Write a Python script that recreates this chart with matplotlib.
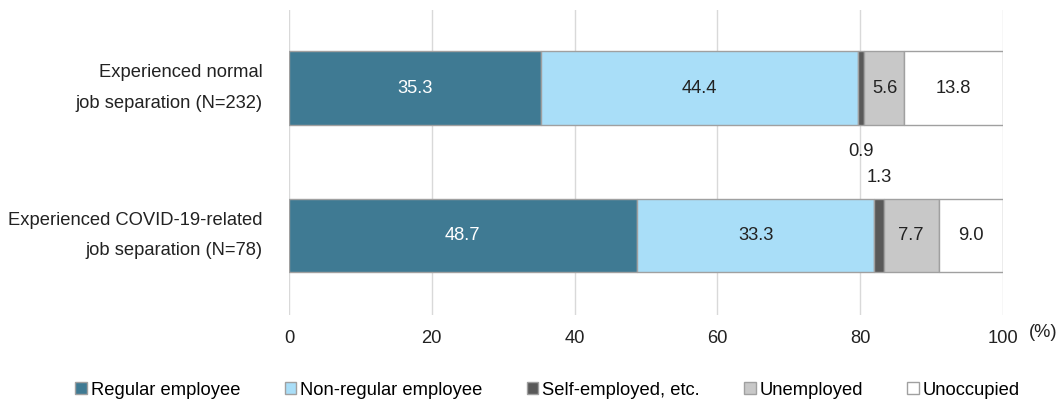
import matplotlib.pyplot as plt
import numpy as np

plt.rcParams['font.family'] = ['Liberation Sans', 'DejaVu Sans']

groups = ['Experienced normal\njob separation (N=232)',
          'Experienced COVID-19-related\njob separation (N=78)']
series = ['Regular employee', 'Non-regular employee', 'Self-employed, etc.',
          'Unemployed', 'Unoccupied']
regular = [35.3, 48.7]
nonregular = [44.4, 33.3]
selfemp = [0.9, 1.3]
unemployed = [5.6, 7.7]
unoccupied = [13.8, 9.0]

colors = ['#3F7A93', '#A9DEF8', '#595959', '#C8C8C8', '#FFFFFF']
text_colors = ['white', '#222222', None, '#222222', '#222222']
fs = 13.2

fig = plt.figure(figsize=(10.59, 4.01), dpi=100)
ax = fig.add_axes([0.2729, 0.2145, 0.6742, 0.7605])

ypos = [1, 0]
data = [regular, nonregular, selfemp, unemployed, unoccupied]
left = np.zeros(2)
for i, vals in enumerate(data):
    ax.barh(ypos, vals, left=left, height=0.5, color=colors[i],
            edgecolor='#A0A0A0', linewidth=1, label=series[i], zorder=3)
    for j in range(2):
        cx = left[j] + vals[j] / 2
        if text_colors[i] is not None:
            ax.text(cx, ypos[j], f'{vals[j]:.1f}', ha='center', va='center',
                    fontsize=fs, color=text_colors[i], zorder=4)
        else:
            # small segment labels placed between the bars
            dy = -0.43 if j == 0 else 0.39
            ax.text(cx, ypos[j] + dy, f'{vals[j]:.1f}', ha='center',
                    va='center', fontsize=fs, color='#222222', zorder=4)
    left += np.array(vals)

ax.set_xlim(0, 100)
ax.set_ylim(-0.54, 1.53)
ax.set_xticks([0, 20, 40, 60, 80, 100])
ax.set_yticks(ypos)
ax.set_yticklabels(groups, fontsize=fs, color='#222222', linespacing=2.05,
                   va='center')
ax.tick_params(axis='both', length=0, labelsize=fs, colors='#222222')
ax.tick_params(axis='x', pad=11)
ax.tick_params(axis='y', pad=19)
ax.grid(axis='x', color='#D9D9D9', linewidth=1, zorder=0)
for s in ax.spines.values():
    s.set_visible(False)
ax.text(1.036, -0.03, '(%)', transform=ax.transAxes, fontsize=fs,
        color='#222222', ha='left', va='top')

fig.legend(loc='center', bbox_to_anchor=(0.517, 0.027), ncol=5,
           frameon=False, fontsize=fs, handlelength=0.65, handleheight=0.65,
           handletextpad=0.2, columnspacing=2.4)

plt.savefig('out.png', dpi=100)
